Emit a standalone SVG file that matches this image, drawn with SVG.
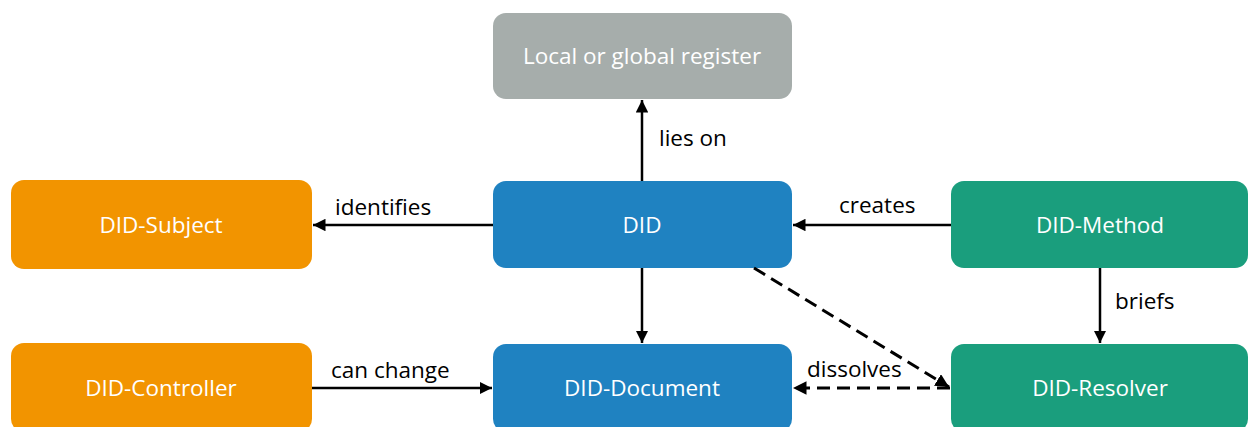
<svg xmlns="http://www.w3.org/2000/svg" width="1248" height="427" viewBox="0 0 1248 427">
<defs>
<style>
.node{stroke:none}
.lbl{font-family:"Open Sans","Noto Sans",sans-serif;font-size:22.5px;fill:#ffffff;text-anchor:middle}
.edge{font-family:"Open Sans","Noto Sans",sans-serif;font-size:22.5px;fill:#000000}
.line{stroke:#000;stroke-width:2.5;fill:none}
.dash{stroke:#000;stroke-width:3;fill:none;stroke-dasharray:13 7}
</style>
<marker id="arr" viewBox="0 0 10 10" refX="10" refY="5" markerWidth="5" markerHeight="5" orient="auto" markerUnits="strokeWidth">
<path d="M0,0 L10,5 L0,10 z" fill="#000"/>
</marker>
<marker id="arrd" viewBox="0 0 10 10" refX="10" refY="5" markerWidth="4.5" markerHeight="4.5" orient="auto" markerUnits="strokeWidth">
<path d="M0,0 L10,5 L0,10 z" fill="#000"/>
</marker>
</defs>
<rect width="1248" height="427" fill="#ffffff"/>
<g id="register"><rect class="node" x="493" y="13" width="299" height="86" rx="13" fill="#A6ADAB"/><text class="lbl" x="642" y="64">Local or global register</text></g>
<g id="did"><rect class="node" x="493" y="181" width="299" height="87" rx="13" fill="#1F82C1"/><text class="lbl" x="642" y="233">DID</text></g>
<g id="subject"><rect class="node" x="11" y="180" width="301" height="89" rx="13" fill="#F29400"/><text class="lbl" x="161" y="233">DID-Subject</text></g>
<g id="controller"><rect class="node" x="11" y="343" width="301" height="89" rx="13" fill="#F29400"/><text class="lbl" x="161" y="396">DID-Controller</text></g>
<g id="document"><rect class="node" x="493" y="344" width="299" height="88" rx="13" fill="#1F82C1"/><text class="lbl" x="642" y="396">DID-Document</text></g>
<g id="method"><rect class="node" x="951" y="181" width="297" height="87" rx="13" fill="#1A9E7D"/><text class="lbl" x="1100" y="233">DID-Method</text></g>
<g id="resolver"><rect class="node" x="951" y="344" width="297" height="88" rx="13" fill="#1A9E7D"/><text class="lbl" x="1100" y="396">DID-Resolver</text></g>
<g id="connectors">
<line class="line" x1="642" y1="181" x2="642" y2="100" marker-end="url(#arr)"/>
<text class="edge" x="659" y="146">lies on</text>
<line class="line" x1="493" y1="225" x2="313" y2="225" marker-end="url(#arr)"/>
<text class="edge" x="335" y="215">identifies</text>
<line class="line" x1="951" y1="225" x2="793" y2="225" marker-end="url(#arr)"/>
<text class="edge" x="839" y="213">creates</text>
<line class="line" x1="642" y1="268" x2="642" y2="343" marker-end="url(#arr)"/>
<line class="line" x1="312" y1="388" x2="492" y2="388" marker-end="url(#arr)"/>
<text class="edge" x="331" y="378">can change</text>
<line class="line" x1="1100" y1="268" x2="1100" y2="343" marker-end="url(#arr)"/>
<text class="edge" x="1115" y="309">briefs</text>
<line class="dash" x1="754" y1="268" x2="949" y2="387" marker-end="url(#arrd)"/>
<line class="dash" x1="950" y1="388" x2="793" y2="388" marker-end="url(#arrd)"/>
<text class="edge" x="807" y="377">dissolves</text>
</g>
</svg>
